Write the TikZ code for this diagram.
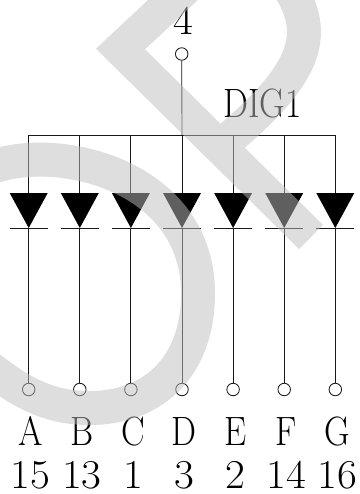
\documentclass[tikz,border=0pt]{standalone}
\usetikzlibrary{positioning}

\definecolor{markgray}{RGB}{190,190,190}

\tikzset{
    wire/.style={line width=0.85pt, black!90},
    padcircle/.style={circle, draw, line width=0.85pt, black!90, fill=white, minimum size=12.5pt, inner sep=0pt},
    capname/.style={anchor=base, inner sep=0pt, xscale=0.86, font=\fontsize{41}{42}\selectfont},
    pinnum/.style={anchor=base, inner sep=0pt, xscale=1.05, font=\fontsize{41}{42}\selectfont}
}

\begin{document}
\begin{tikzpicture}[x=1pt, y=-1pt]
        \useasboundingbox (0, 0) rectangle (359, 494);

        % common pin
        \node[padcircle] (common) at (181.7, 54) {};
        \node[pinnum, transform shape] (commonnum) at (183, 35) {4};
        \node[capname, transform shape] (dig) at (262.5, 118) {DIG1};

        % one diode per segment
        \foreach \i/\x/\name/\num in {a/28.7/A/15, b/79.8/B/13, c/130.9/C/1, d/182/D/3, e/233.1/E/2, f/284.2/F/14, g/335.3/G/16} {
            \coordinate (bus\i) at (\x, 135);
            \coordinate (top\i) at (\x, 193);
            \coordinate (tip\i) at (\x, 228);
            \coordinate (left\i) at (\x-19, 193);
            \coordinate (right\i) at (\x+19, 193);
            \coordinate (barl\i) at (\x-19, 228);
            \coordinate (barr\i) at (\x+19, 228);
            \node[padcircle] (pad\i) at (\x, 389.5) {};
            \node[capname, transform shape] (name\i) at (\x+2, 445) {\name};
            \node[pinnum, transform shape] (num\i) at (\x+2, 488) {\num};

            \draw[wire] (bus\i) -- (top\i);
            \fill (left\i) -- (right\i) -- (tip\i) -- cycle;
            \draw[wire] (barl\i) -- (barr\i);
            \draw[wire] (tip\i) -- (pad\i);
        }

        \draw[wire] (busa) -- (busg);
        \draw[wire] (common) -- (busd);

        % grey mark over everything
        \begin{scope}
            \clip (0, 0) rectangle (359, 494);
            \draw[markgray, opacity=0.5, line width=34pt, line join=miter, miter limit=10]
                (311, 237) -- (120.5, 49) -- (190, -16)
                .. controls (215, -40) and (280, -40) .. (296, 0)
                .. controls (318, 45) and (295, 85) .. (218, 148)
                (-30, 178) .. controls (30, 135) and (198, 165) .. (198, 293)
                .. controls (198, 370) and (150, 408) .. (90, 408)
                .. controls (55, 408) and (25, 398) .. (-20, 360);
        \end{scope}
    \end{tikzpicture}
\end{document}
